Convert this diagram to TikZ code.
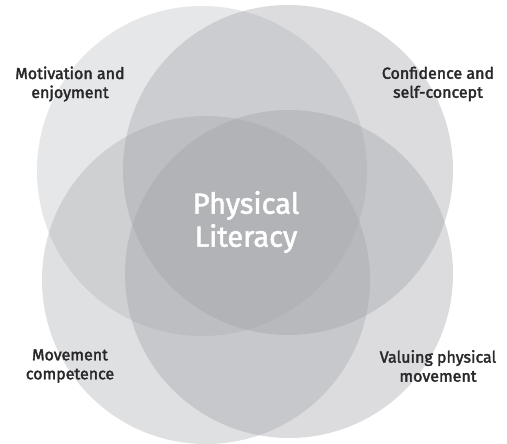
\documentclass[tikz,border=0pt]{standalone}
\usepackage{fontspec}
\setmainfont{Fira Sans}
\newfontfamily\labfont{Fira Sans}[FakeBold=2.2]
\newfontfamily\midfont{Fira Sans}[FakeBold=1.8]
\definecolor{circgray}{RGB}{158,160,166}
\definecolor{labcol}{RGB}{40,40,42}
\tikzset{
  disc/.style={fill=circgray, fill opacity=#1},
  lab/.style={text=labcol, align=center, font=\labfont\fontsize{16}{19}\selectfont, inner sep=0pt},
  mid/.style={text=white, align=center, font=\midfont\fontsize{29}{33}\selectfont, inner sep=0pt}
}
\begin{document}
\begin{tikzpicture}[x=1pt,y=-1pt]
\useasboundingbox (0,0) rectangle (507,444);
\fill[white] (0,0) rectangle (507,444);
\begin{scope}
\clip (0,0) rectangle (507,444);
\fill[disc=0.25] (202,171) circle[radius=165];
\fill[disc=0.36] (288,170) circle[radius=165];
\fill[disc=0.32] (206,280) circle[radius=164];
\fill[disc=0.36] (289,274) circle[radius=164];
\end{scope}
\node[lab] (mot) at (70,84) {Motivation and\\enjoyment};
\node[lab] (con) at (438,84) {Confidence and\\self-concept};
\node[lab] (mov) at (70,366) {Movement\\competence};
\node[lab] (val) at (438,366) {Valuing physical\\movement};
\node[mid] (pl) at (246,222) {Physical\\Literacy};
\end{tikzpicture}
\end{document}
